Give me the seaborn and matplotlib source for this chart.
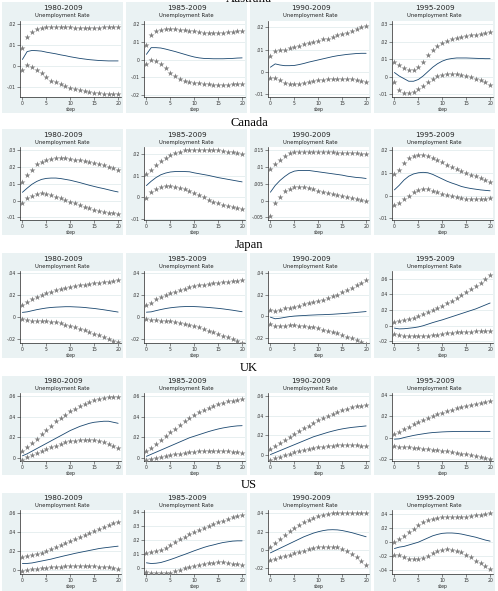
import seaborn as sns
import matplotlib.pyplot as plt
from matplotlib.patches import Rectangle
import numpy as np

sns.set_theme(style='white')
plt.rcParams['font.family'] = ['DejaVu Sans']

steps = list(range(21))
countries = ['Australia', 'Canada', 'Japan', 'UK', 'US']
periods = ['1980-2009', '1985-2009', '1990-2009', '1995-2009']

# ---- Australia ----
aus80_hi = [.0083, .014, .0163, .0175, .0182, .0186, .0187, .0187, .0186, .0185, .0184,
            .0183, .0182, .0182, .0182, .0182, .0183, .0184, .0185, .0186, .0188]
aus80_irf = [.003, .0068, .0073, .0072, .007, .0065, .0061, .0057, .0052, .0048, .0043,
             .0039, .0035, .0032, .0029, .0027, .0025, .0024, .0023, .0023, .0023]
aus80_lo = [-.002, .0005, -.0005, -.002, -.0035, -.0055, -.0072, -.008, -.009, -.0098, -.0105,
            -.011, -.0117, -.0122, -.0127, -.013, -.0133, -.0135, -.0137, -.0138, -.0138]

aus85_hi = [.0083, .0137, .016, .0169, .0173, .0173, .0172, .017, .0168, .0164, .016,
            .0157, .0154, .0152, .015, .015, .0152, .0156, .0158, .0161, .0163]
aus85_irf = [.003, .0068, .0068, .0066, .006, .0053, .0046, .0038, .003, .0022, .0015,
             .001, .0007, .0006, .0005, .0005, .0005, .0006, .0007, .0009, .001]
aus85_lo = [-.0025, 0, -.0005, -.0025, -.005, -.0075, -.0095, -.011, -.012, -.0128, -.0133,
            -.0135, -.0138, -.014, -.0142, -.0143, -.0143, -.0142, -.0141, -.014, -.0138]

aus90_hi = [.0069, .0092, .0097, .01, .0105, .011, .0118, .0123, .0128, .0134, .0138,
            .0146, .015, .0157, .0165, .0172, .0177, .0185, .0192, .02, .0208]
aus90_irf = [.002, .0035, .003, .0027, .0027, .0028, .0032, .0037, .0043, .0048, .0053,
             .0058, .0063, .0068, .0072, .0075, .0078, .008, .0082, .0083, .0083]
aus90_lo = [-.0027, -.0027, -.004, -.005, -.0055, -.0058, -.0057, -.0053, -.0048, -.0043, -.004,
            -.0037, -.0035, -.0033, -.0032, -.0032, -.0033, -.0035, -.0038, -.0042, -.0047]

aus95_hi = [.0087, .0067, .0048, .0038, .0038, .0058, .0087, .0125, .0154, .0177, .0192,
            .0206, .0215, .0221, .0227, .0231, .0237, .024, .0246, .025, .0256]
aus95_irf = [.0025, .0005, -.001, -.0025, -.0025, -.0015, .0005, .003, .0055, .0075, .009,
             .01, .0105, .0108, .0108, .0108, .0107, .0106, .0105, .0104, .0104]
aus95_lo = [-.003, -.0075, -.0092, -.0092, -.0088, -.0072, -.005, -.0028, -.0012, .0003, .001,
            .0015, .0017, .0015, .001, .0003, -.0003, -.0012, -.002, -.0028, -.0048]

# ---- Canada ----
can80_hi = [.011, .0153, .0186, .0216, .0231, .0245, .025, .0255, .0255, .0255, .025,
            .0245, .024, .0235, .023, .0222, .0216, .021, .0202, .0196, .0182]
can80_irf = [.005, .0075, .0098, .0115, .0127, .0133, .0135, .0135, .0132, .0127, .0122,
             .0115, .0108, .01, .0092, .0085, .0078, .0072, .0065, .0058, .0052]
can80_lo = [-.0015, .0015, .003, .004, .0045, .0042, .0035, .0025, .0015, .0005, -.0005,
            -.0015, -.0025, -.0035, -.0045, -.0055, -.006, -.0068, -.0072, -.0075, -.0078]

can85_hi = [.0108, .0128, .015, .0167, .0182, .0196, .0205, .0212, .0218, .0221, .0222,
            .0222, .0222, .0221, .022, .0218, .0215, .0212, .0209, .0205, .02]
can85_irf = [.0055, .0075, .0092, .0105, .0113, .0118, .012, .012, .012, .0119, .0114,
             .011, .0106, .0102, .0097, .0092, .0088, .0084, .008, .0076, .0072]
can85_lo = [-.0005, .0025, .004, .005, .0055, .0055, .005, .0045, .0038, .003, .002,
            .001, 0, -.001, -.002, -.0028, -.0035, -.004, -.0045, -.005, -.0052]

can90_hi = [.0095, .0108, .0121, .0134, .0141, .0144, .0146, .0146, .0146, .0145, .0145,
            .0145, .0144, .0144, .0143, .0142, .0142, .0141, .0141, .014, .0139]
can90_irf = [.0025, .0045, .006, .0072, .0082, .0088, .009, .009, .009, .0088, .0086,
             .0084, .0082, .008, .0078, .0076, .0073, .0071, .0069, .0068, .0066]
can90_lo = [-.0045, -.0008, .0012, .0028, .0036, .004, .0041, .004, .0038, .0034, .003,
            .0026, .0022, .0019, .0016, .0013, .001, .0008, .0005, .0003, 0]

can95_hi = [.0093, .0114, .0143, .0164, .0174, .0179, .0179, .0174, .0167, .0157, .0147,
            .0136, .0126, .0117, .0108, .01, .0092, .0084, .0076, .0068, .006]
can95_irf = [.0025, .0045, .0068, .0085, .0095, .01, .0102, .01, .0093, .0083, .0073,
             .0063, .0055, .0048, .004, .0035, .0031, .0028, .0025, .0023, .0021]
can95_lo = [-.0042, -.0032, -.0015, 0, .0015, .0025, .0028, .0027, .0022, .0015, .0008,
            .0003, -.0003, -.0008, -.0012, -.0015, -.0015, -.0015, -.0014, -.0013, -.0012]

# ---- Japan ----
jpn80_hi = [.0105, .0133, .0159, .018, .0197, .0213, .0229, .0241, .0254, .0267, .0276,
            .0283, .0289, .0295, .0302, .0308, .0311, .0317, .032, .0327, .0333]
jpn80_irf = [.004, .0045, .0055, .0065, .0073, .008, .0085, .0088, .009, .0092, .0092,
             .009, .0088, .0085, .008, .0076, .007, .0064, .0057, .005, .0043]
jpn80_lo = [-.002, -.0033, -.0035, -.0035, -.0037, -.004, -.0045, -.0052, -.006, -.0072, -.0085,
            -.0097, -.011, -.0125, -.014, -.0155, -.017, -.0185, -.02, -.0218, -.0235]

jpn85_hi = [.0105, .013, .0158, .018, .0198, .0215, .023, .0243, .0256, .0268, .0278,
            .0286, .0293, .03, .0306, .0312, .0317, .0321, .0326, .033, .0335]
jpn85_irf = [.0042, .0045, .0056, .0066, .0075, .0082, .0087, .0091, .0093, .0094, .0093,
             .0091, .0088, .0085, .0081, .0077, .0072, .0066, .006, .0053, .0046]
jpn85_lo = [-.002, -.0032, -.0034, -.0035, -.0037, -.0041, -.0047, -.0054, -.0062, -.0073, -.0085,
            -.0098, -.0112, -.0126, -.0141, -.0156, -.0172, -.0188, -.0204, -.022, -.0238]

jpn90_hi = [.0055, .0048, .0061, .0071, .0077, .0087, .0097, .011, .0119, .0129, .0142,
            .0152, .0168, .0184, .02, .0223, .0242, .0265, .0287, .0306, .0335]
jpn90_irf = [-.001, -.0025, -.002, -.0012, -.0005, 0, .0003, .0005, .0008, .001, .0012,
             .0013, .0015, .0017, .002, .0023, .0026, .003, .0034, .0038, .0042]
jpn90_lo = [-.007, -.0095, -.0095, -.009, -.0085, -.0085, -.009, -.0095, -.01, -.0105, -.0115,
            -.0125, -.0135, -.0148, -.016, -.0175, -.019, -.0205, -.022, -.0238, -.0255]

jpn95_hi = [.005, .006, .007, .0085, .01, .012, .0145, .017, .0195, .022, .025,
            .0285, .032, .0355, .039, .043, .047, .051, .055, .0595, .0645]
jpn95_irf = [-.003, -.004, -.0038, -.0032, -.0025, -.0015, 0, .002, .004, .0058, .0075,
             .0095, .0115, .0135, .0155, .0175, .0195, .0215, .024, .0265, .029]
jpn95_lo = [-.01, -.012, -.0125, -.0125, -.0128, -.013, -.0128, -.0125, -.012, -.0112, -.0105,
            -.0095, -.009, -.0085, -.008, -.0078, -.0075, -.0072, -.007, -.0068, -.0068]

# ---- UK ----
uk80_hi = [.0065, .0103, .0145, .0187, .0232, .0274, .0313, .0355, .0387, .0419, .0452,
           .0477, .05, .0523, .0542, .0558, .0571, .058, .059, .0594, .0594]
uk80_irf = [.002, .004, .0065, .009, .0115, .014, .0165, .019, .0215, .024, .0265,
            .0285, .0305, .032, .0335, .0345, .035, .0355, .0355, .0345, .0335]
uk80_lo = [-.0025, .0005, .0025, .0045, .0065, .0085, .0105, .012, .0135, .015, .016,
           .0168, .0172, .0175, .0175, .0172, .0165, .0155, .0138, .012, .0098]

uk85_hi = [.0065, .0097, .0135, .0171, .0209, .0248, .0284, .0323, .0355, .0387, .0419,
           .0445, .0468, .0484, .0506, .0523, .0535, .0548, .0555, .0561, .0571]
uk85_irf = [.0015, .0035, .0055, .0075, .0095, .0115, .0135, .0155, .0175, .0195, .021,
            .0225, .024, .0255, .0268, .028, .029, .0298, .0305, .031, .0312]
uk85_lo = [-.0025, -.001, 0, .001, .002, .0028, .0035, .0042, .0048, .0055, .006,
           .0063, .0066, .0068, .007, .007, .0068, .0065, .006, .0055, .005]

uk90_hi = [.0062, .0095, .0125, .0155, .0185, .0215, .0245, .027, .0297, .0323, .035,
           .0373, .0397, .0417, .0437, .0453, .047, .0483, .0493, .05, .051]
uk90_irf = [.0005, .0025, .0045, .0065, .0085, .0105, .0125, .0145, .0165, .0185, .02,
            .0215, .023, .0243, .0255, .0265, .0273, .028, .0285, .029, .0295]
uk90_lo = [-.0045, -.003, -.0015, 0, .0015, .0028, .004, .005, .006, .007, .0078,
           .0085, .009, .0095, .0098, .01, .01, .01, .0098, .0095, .009]

uk95_hi = [.0037, .0053, .0078, .01, .0125, .0147, .0166, .0185, .0203, .0219, .0235,
           .0247, .026, .0275, .0288, .0297, .0306, .0316, .0325, .0334, .0344]
uk95_irf = [-.0015, -.0012, 0, .001, .002, .0028, .0035, .0042, .0047, .005, .0053,
            .0055, .0056, .0057, .0058, .0058, .0058, .0058, .0058, .0058, .0058]
uk95_lo = [-.0075, -.0085, -.0085, -.009, -.0095, -.01, -.0105, -.011, -.0115, -.012, -.0125,
           -.013, -.0137, -.0143, -.015, -.0157, -.0165, -.0172, -.018, -.019, -.0203]

# ---- US ----
us80_hi = [.0138, .0145, .0155, .0165, .018, .0197, .022, .0242, .0265, .0284, .0306,
           .0329, .0348, .0371, .039, .041, .0429, .0448, .0468, .0487, .0503]
us80_irf = [.007, .007, .0075, .0085, .0095, .0105, .0115, .0128, .014, .0152, .0163,
            .0175, .0185, .0195, .0205, .0215, .0225, .0232, .0238, .0244, .025]
us80_lo = [-.0005, 0, .001, .0015, .002, .0025, .003, .0035, .0038, .004, .0042,
           .0043, .0043, .0043, .0042, .004, .0038, .0035, .003, .0022, .0015]

us85_hi = [.011, .0114, .0121, .0133, .0149, .0167, .0186, .0207, .0226, .0244, .026,
           .0277, .0291, .0305, .0319, .033, .0342, .0353, .0365, .0374, .0384]
us85_irf = [.004, .0035, .0037, .0042, .0052, .0063, .0075, .0088, .01, .0113, .0126,
            .0138, .015, .016, .0168, .0177, .0185, .019, .0195, .0197, .0197]
us85_lo = [-.0025, -.003, -.0035, -.0035, -.0035, -.003, -.002, -.001, 0, .001, .0018,
           .0025, .0032, .0037, .004, .0043, .0043, .004, .0035, .0028, .0022]

us90_hi = [.0039, .0082, .0125, .0164, .0203, .0239, .0272, .0302, .0328, .0351, .0367,
           .0384, .0393, .04, .0403, .0407, .0407, .0407, .0407, .0403, .04]
us90_irf = [-.003, -.0005, .002, .0045, .007, .0095, .012, .0145, .0165, .0185, .02,
            .0212, .022, .0222, .022, .0213, .0202, .019, .0175, .016, .0145]
us90_lo = [-.0105, -.0095, -.008, -.0065, -.005, -.0035, -.002, -.0005, .001, .002, .003,
           .0035, .0037, .0035, .003, .0015, -.001, -.004, -.008, -.012, -.0165]

us95_hi = [0, .004, .009, .014, .019, .024, .028, .031, .033, .034, .035,
           .035, .035, .035, .0355, .036, .037, .038, .039, .04, .041]
us95_irf = [-.009, -.007, -.006, -.004, -.002, 0, .003, .006, .009, .011, .0125,
            .013, .013, .0125, .0115, .01, .0085, .007, .005, .003, .0015]
us95_lo = [-.0175, -.018, -.0215, -.0235, -.024, -.0235, -.0225, -.019, -.0155, -.0125, -.011,
           -.01, -.0105, -.012, -.0145, -.018, -.0215, -.026, -.03, -.034, -.038]

# y ticks per panel (row by row)
aus_ticks = [[-.01, 0, .01, .02], [-.02, -.01, 0, .01, .02], [-.01, 0, .01, .02], [-.01, 0, .01, .02, .03]]
can_ticks = [[-.01, 0, .01, .02, .03], [-.01, 0, .01, .02], [-.005, 0, .005, .01, .015], [-.01, 0, .01, .02]]
jpn_ticks = [[-.02, 0, .02, .04], [-.02, 0, .02, .04], [-.02, 0, .02, .04], [-.02, 0, .02, .04, .06]]
uk_ticks = [[0, .02, .04, .06], [0, .02, .04, .06], [0, .02, .04, .06], [-.02, 0, .02, .04]]
us_ticks = [[0, .02, .04, .06], [0, .01, .02, .03, .04], [-.02, 0, .02, .04], [-.04, -.02, 0, .02, .04]]

aus_ylim = [(-.015, .0215), (-.0212, .022), (-.0115, .023), (-.0115, .032)]
can_ylim = [(-.0115, .032), (-.0105, .0234), (-.0058, .016), (-.0107, .0213)]
jpn_ylim = [(-.024, .042), (-.024, .042), (-.025, .042), (-.022, .07)]
uk_ylim = [(-.003, .063), (-.003, .063), (-.006, .063), (-.022, .042)]
us_ylim = [(-.004, .063), (-.004, .042), (-.026, .044), (-.045, .046)]

panels = [
    [(aus80_lo, aus80_irf, aus80_hi), (aus85_lo, aus85_irf, aus85_hi),
     (aus90_lo, aus90_irf, aus90_hi), (aus95_lo, aus95_irf, aus95_hi)],
    [(can80_lo, can80_irf, can80_hi), (can85_lo, can85_irf, can85_hi),
     (can90_lo, can90_irf, can90_hi), (can95_lo, can95_irf, can95_hi)],
    [(jpn80_lo, jpn80_irf, jpn80_hi), (jpn85_lo, jpn85_irf, jpn85_hi),
     (jpn90_lo, jpn90_irf, jpn90_hi), (jpn95_lo, jpn95_irf, jpn95_hi)],
    [(uk80_lo, uk80_irf, uk80_hi), (uk85_lo, uk85_irf, uk85_hi),
     (uk90_lo, uk90_irf, uk90_hi), (uk95_lo, uk95_irf, uk95_hi)],
    [(us80_lo, us80_irf, us80_hi), (us85_lo, us85_irf, us85_hi),
     (us90_lo, us90_irf, us90_hi), (us95_lo, us95_irf, us95_hi)],
]
ticks_all = [aus_ticks, can_ticks, jpn_ticks, uk_ticks, us_ticks]
ylims_all = [aus_ylim, can_ylim, jpn_ylim, uk_ylim, us_ylim]


def stata_fmt(v):
    if v == 0:
        return '0'
    s = f'{v:g}'
    return s.replace('0.', '.')


W, H = 498, 591
fig = plt.figure(figsize=(W / 100, H / 100), dpi=100)
fig.patch.set_facecolor('white')

# layout in pixels
col_x = [2, 126, 250, 374]
col_w = 121
row_top = [2, 129, 253, 376, 493]
row_bot = [113, 235, 358, 475, 591]
label_y = [-1.5, 123, 245, 368, 485]
# bottom margin (px) inside each row, below the plot area
row_pad = [16, 15, 15, 14, 17]

bg = '#eaf2f3'
navy = '#1a476f'
dots = '#7f7f7f'

for r, country in enumerate(countries):
    fig.text(249 / W, 1 - label_y[r] / H, country, ha='center', va='center',
             fontsize=9, family='Liberation Serif', color='black')
    top, bot = row_top[r], row_bot[r]
    h = bot - top
    for c, period in enumerate(periods):
        x0 = col_x[c]
        fig.add_artist(Rectangle((x0 / W, 1 - bot / H), col_w / W, h / H,
                                 transform=fig.transFigure, facecolor=bg,
                                 edgecolor='none', zorder=0))
        p_top = top + 0.17 * h
        p_bot = bot - row_pad[r]
        ax = fig.add_axes([(x0 + 18) / W, 1 - p_bot / H, (col_w - 20) / W, (p_bot - p_top) / H])
        ax.set_facecolor('white')

        lo, irf, hi = panels[r][c]
        sns.scatterplot(x=steps, y=hi, ax=ax, marker='*', s=20, color=dots,
                        linewidth=0, zorder=3)
        sns.scatterplot(x=steps, y=lo, ax=ax, marker='*', s=20, color=dots,
                        linewidth=0, zorder=3)
        sns.lineplot(x=steps, y=irf, ax=ax, color=navy, linewidth=0.6, zorder=4)

        yt = ticks_all[r][c]
        ax.set_xlim(-0.5, 20.6)
        ax.set_ylim(*ylims_all[r][c])
        ax.set_xticks([0, 5, 10, 15, 20])
        ax.set_yticks(yt)
        ax.set_yticklabels([stata_fmt(v) for v in yt])
        ax.tick_params(axis='both', labelsize=3.3, length=2, width=0.4, pad=1,
                       colors='#333333', direction='out', left=True, bottom=True)
        ax.grid(axis='y', color='#e3ecee', linewidth=0.6)
        ax.set_axisbelow(True)
        for side in ['top', 'right']:
            ax.spines[side].set_visible(False)
        for side in ['left', 'bottom']:
            ax.spines[side].set_color('#222222')
            ax.spines[side].set_linewidth(0.5)
        ax.set_xlabel('step', fontsize=3.3, labelpad=0.3)
        ax.set_ylabel('')

        cx = (x0 + col_w / 2) / W
        fig.text(cx, 1 - (top + 0.055 * h) / H, period, ha='center', va='center',
                 fontsize=5.2, color='#222222')
        fig.text(cx, 1 - (top + 0.125 * h) / H, 'Unemployment Rate', ha='center',
                 va='center', fontsize=3.8, color='#222222')

fig.savefig('out.png', dpi=100, facecolor='white')
